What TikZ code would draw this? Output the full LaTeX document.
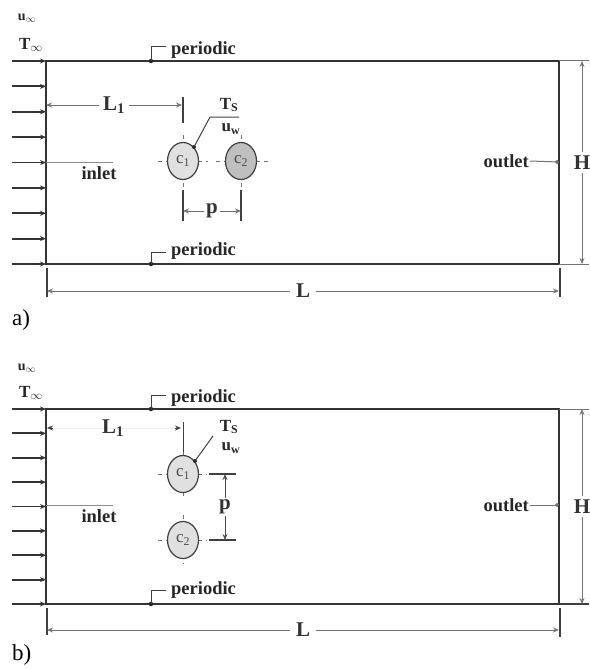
\documentclass[tikz,border=0pt]{standalone}
\usepackage{fontspec}
\setmainfont{Liberation Serif}
\usetikzlibrary{arrows.meta,shapes.geometric}
\begin{document}
\begin{tikzpicture}[x=1pt,y=-1pt,
  wall/.style={line width=1.6pt, draw=black!80},
  dim/.style={line width=1pt, draw=black!55},
  dimarr/.style={dim, {Stealth[length=6pt,width=5pt]}-{Stealth[length=6pt,width=5pt]}},
  tickline/.style={line width=1.5pt, draw=black!75},
  leader/.style={line width=1pt, draw=black!75},
  inarrow/.style={line width=1.9pt, draw=black!80, -{Stealth[length=6pt,width=5pt]}},
  dotnode/.style={circle, fill=black!85, inner sep=0pt, minimum size=4.5pt},
  cross/.style={draw=black!55, line width=1pt, dash pattern=on 4pt off 4pt},
  cyl/.style={ellipse, draw=black!75, line width=1.2pt, fill=black!12, minimum width=31pt, minimum height=37pt, inner sep=0pt, font=\fontsize{17}{18}\selectfont, text=black!70},
  lbl/.style={font=\bfseries\fontsize{18.5}{20}\selectfont, text=black!85, inner sep=1pt},
  big/.style={font=\bfseries\fontsize{21}{23}\selectfont, text=black!80, inner sep=2pt},
  mid/.style={font=\bfseries\fontsize{17}{19}\selectfont, text=black!85, inner sep=1pt},
  sml/.style={font=\bfseries\fontsize{14}{16}\selectfont, text=black!85, inner sep=1pt},
  tag/.style={font=\fontsize{23}{25}\selectfont, inner sep=0pt}
]
\useasboundingbox (0,0) rectangle (589,669);

%================ panel a =================
\coordinate (aTL) at (46,61);
\coordinate (aTR) at (559,61);
\coordinate (aBR) at (559,264);
\coordinate (aBL) at (46,264);
\draw[wall] (aTL) -- (aTR) -- (aBR) -- (aBL) -- cycle;
\foreach \k in {0,...,8}{
  \pgfmathsetmacro\yy{61+\k*25.375}
  \coordinate (ais\k) at (12,\yy);
  \coordinate (aie\k) at (46,\yy);
  \draw[inarrow] (ais\k) -- (aie\k);
}
\node[sml] (auinf) at (27,18) {u$_{\infty}$};
\node[mid] (atinf) at (31,45) {T$_{\infty}$};

% periodic labels
\node[dotnode] (apd1) at (151,61) {};
\coordinate (apc1) at (166,47);
\draw[leader] (apd1.center) |- (apc1);
\node[lbl, anchor=west] (apt1) at (170,50) {periodic};
\node[dotnode] (apd2) at (151,264) {};
\coordinate (apc2) at (166,252);
\draw[leader] (apd2.center) |- (apc2);
\node[lbl, anchor=west] (apt2) at (170,251) {periodic};

% L1
\coordinate (aL1s) at (46,105);
\coordinate (aL1e) at (182,105);
\draw[dimarr] (aL1s) -- node[big, fill=white, inner sep=4pt] (aL1t) {L\textsubscript{1}} (aL1e);
\coordinate (at1a) at (183,97);
\coordinate (at1b) at (183,123);
\draw[tickline] (at1a) -- (at1b);

% cylinders
\coordinate (ac1l) at (158,161); \coordinate (ac1r) at (208,161);
\coordinate (ac1t) at (183,135); \coordinate (ac1b) at (183,188);
\draw[cross] (ac1l) -- (ac1r);
\draw[cross] (ac1t) -- (ac1b);
\coordinate (ac2l) at (216,161); \coordinate (ac2r) at (270,161);
\coordinate (ac2t) at (241,135); \coordinate (ac2b) at (241,188);
\draw[cross] (ac2l) -- (ac2r);
\draw[cross] (ac2t) -- (ac2b);
\node[cyl] (ac1) at (183,161) {c\textsubscript{1}};
\node[cyl, fill=black!25] (ac2) at (241,161) {c\textsubscript{2}};

% p
\coordinate (apv1a) at (183,190); \coordinate (apv1b) at (183,221);
\coordinate (apv2a) at (241,190); \coordinate (apv2b) at (241,221);
\draw[tickline] (apv1a) -- (apv1b);
\draw[tickline] (apv2a) -- (apv2b);
\coordinate (aps) at (183,211); \coordinate (ape) at (241,211);
\draw[dimarr] (aps) -- node[big, fill=white] (apt) {p} (ape);

% Ts, uw
\node[dotnode, minimum size=4pt] (atsd) at (194,147) {};
\coordinate (atsk) at (210,117);
\coordinate (atse) at (239,117);
\draw[leader] (atsd.center) -- (atsk) -- (atse);
\node[mid] (ats) at (229,105) {T\textsubscript{S}};
\node[mid] (auw) at (231,129) {u\textsubscript{w}};

% inlet
\coordinate (ainA) at (46,162); \coordinate (ainB) at (113,162);
\draw[line width=0.9pt, draw=black!45] (ainA) -- (ainB);
\node[lbl] (ainl) at (99,173) {inlet};

% outlet
\node[lbl, anchor=east] (aout) at (530,161) {outlet};
\coordinate (aoutE) at (559,162);
\draw[leader, draw=black!55, -{Circle[length=4pt]}] (aout.east) -- (aoutE);

% H
\coordinate (aHe1) at (559,61); \coordinate (aHe1r) at (589,61);
\coordinate (aHe2) at (559,264); \coordinate (aHe2r) at (589,264);
\draw[dim] (aHe1) -- (aHe1r);
\draw[dim] (aHe2) -- (aHe2r);
\coordinate (aHs) at (582,61); \coordinate (aHe) at (582,264);
\draw[dimarr] (aHs) -- node[big, fill=white, inner sep=4pt] (aHt) {H} (aHe);

% L
\coordinate (aLt1a) at (47,268); \coordinate (aLt1b) at (47,297);
\coordinate (aLt2a) at (560,268); \coordinate (aLt2b) at (560,297);
\draw[tickline] (aLt1a) -- (aLt1b);
\draw[tickline] (aLt2a) -- (aLt2b);
\coordinate (aLs) at (47,291); \coordinate (aLe) at (559,291);
\draw[dimarr] (aLs) -- node[big, fill=white, inner sep=6pt] (aLtx) {L} (aLe);

\node[tag, anchor=west] (atag) at (12,320) {a)};

%================ panel b =================
\coordinate (bTL) at (46,409);
\coordinate (bTR) at (559,409);
\coordinate (bBR) at (559,604);
\coordinate (bBL) at (46,604);
\draw[wall] (bTL) -- (bTR) -- (bBR) -- (bBL) -- cycle;
\foreach \k in {0,...,8}{
  \pgfmathsetmacro\yy{409+\k*24.375}
  \coordinate (bis\k) at (12,\yy);
  \coordinate (bie\k) at (46,\yy);
  \draw[inarrow] (bis\k) -- (bie\k);
}
\node[sml] (buinf) at (27,368) {u$_{\infty}$};
\node[mid] (btinf) at (31,393) {T$_{\infty}$};

\node[dotnode] (bpd1) at (151,409) {};
\coordinate (bpc1) at (166,395);
\draw[leader] (bpd1.center) |- (bpc1);
\node[lbl, anchor=west] (bpt1) at (170,398) {periodic};
\node[dotnode] (bpd2) at (151,604) {};
\coordinate (bpc2) at (166,590);
\draw[leader] (bpd2.center) |- (bpc2);
\node[lbl, anchor=west] (bpt2) at (170,590) {periodic};

% L1 (faint)
\coordinate (bL1s) at (47,428);
\coordinate (bL1e) at (181,428);
\draw[dimarr, draw=black!6] (bL1s) -- (bL1e);
\draw[black!75, line width=1pt, {Stealth[length=6pt,width=5pt]}-] (bL1s) -- ++(6,0);
\draw[black!75, line width=1pt, -{Stealth[length=6pt,width=5pt]}] (bL1e) ++(-6,0) -- (bL1e);
\node[big] (bL1t) at (113,428) {L\textsubscript{1}};
\coordinate (bt1a) at (183,422);
\coordinate (bt1b) at (183,456);
\draw[leader] (bt1a) -- (bt1b);

% cylinders
\coordinate (bc1l) at (158,474); \coordinate (bc1r) at (207,474);
\coordinate (bc1t) at (183,452); \coordinate (bc1b) at (183,497);
\draw[cross] (bc1l) -- (bc1r);
\draw[cross] (bc1t) -- (bc1b);
\coordinate (bc2l) at (158,540); \coordinate (bc2r) at (207,540);
\coordinate (bc2t) at (183,515); \coordinate (bc2b) at (183,564);
\draw[cross] (bc2l) -- (bc2r);
\draw[cross] (bc2t) -- (bc2b);
\node[cyl] (bc1) at (183,474) {c\textsubscript{1}};
\node[cyl] (bc2) at (183,540) {c\textsubscript{2}};

% p
\coordinate (bph1a) at (209,474); \coordinate (bph1b) at (236,474);
\coordinate (bph2a) at (209,540); \coordinate (bph2b) at (236,540);
\draw[tickline] (bph1a) -- (bph1b);
\draw[tickline] (bph2a) -- (bph2b);
\coordinate (bps) at (225,474); \coordinate (bpe) at (225,540);
\draw[dimarr, draw=black!70] (bps) -- node[big, fill=white] (bpt) {p} (bpe);

% Ts, uw
\node[dotnode, minimum size=4pt] (btsd) at (195,461) {};
\coordinate (btsk) at (213,436);
\draw[leader] (btsd.center) -- (btsk);
\node[mid] (bts) at (229,427) {T\textsubscript{S}};
\node[mid] (buw) at (231,448) {u\textsubscript{w}};

% inlet
\coordinate (binA) at (46,505); \coordinate (binB) at (113,505);
\draw[line width=0.9pt, draw=black!45] (binA) -- (binB);
\node[lbl] (binl) at (99,516) {inlet};

% outlet
\node[lbl, anchor=east] (bout) at (530,505) {outlet};
\coordinate (boutE) at (559,505);
\draw[leader, draw=black!55, -{Circle[length=4pt]}] (bout.east) -- (boutE);

% H
\coordinate (bHe1) at (559,409); \coordinate (bHe1r) at (589,409);
\coordinate (bHe2) at (559,604); \coordinate (bHe2r) at (589,604);
\draw[dim] (bHe1) -- (bHe1r);
\draw[tickline] (bHe2) -- (bHe2r);
\coordinate (bHs) at (582,409); \coordinate (bHe) at (582,604);
\draw[dimarr] (bHs) -- node[big, fill=white, inner sep=4pt] (bHt) {H} (bHe);

% L
\coordinate (bLt1a) at (47,608); \coordinate (bLt1b) at (47,635);
\coordinate (bLt2a) at (560,608); \coordinate (bLt2b) at (560,637);
\draw[tickline] (bLt1a) -- (bLt1b);
\draw[tickline] (bLt2a) -- (bLt2b);
\coordinate (bLs) at (47,630); \coordinate (bLe) at (559,630);
\draw[dimarr] (bLs) -- node[big, fill=white, inner sep=6pt] (bLtx) {L} (bLe);

\node[tag, anchor=west] (btag) at (12,655) {b)};
\end{tikzpicture}
\end{document}
